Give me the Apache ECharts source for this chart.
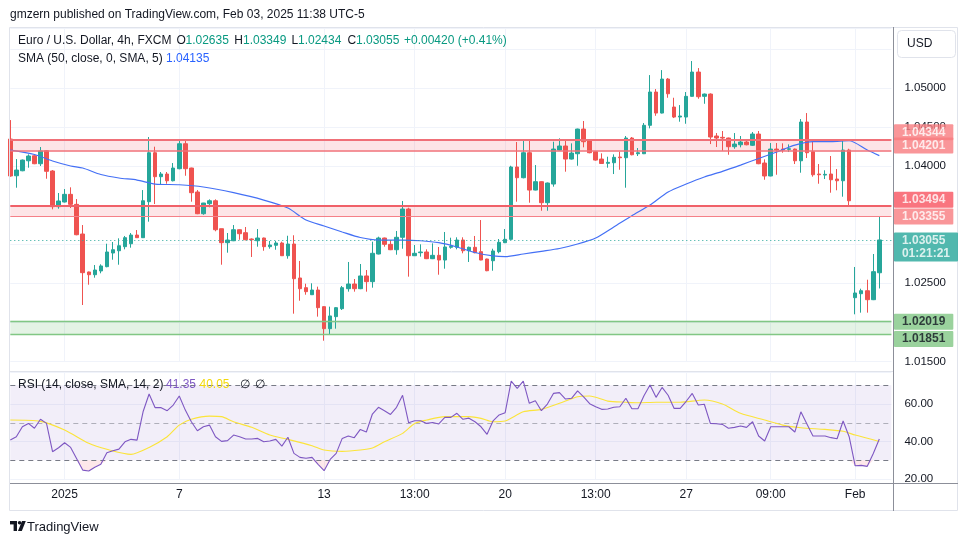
<!DOCTYPE html>
<html><head><meta charset="utf-8">
<script src="https://cdn.jsdelivr.net/npm/echarts/dist/echarts.min.js"></script>
<style>html,body{margin:0;padding:0;background:#fff}#c{width:970px;height:545px}</style>
</head><body><div id="c"></div>
<script>
// ---------- DATA ----------
const opens = [1.04347,1.03877,1.03941,1.04069,1.04133,1.04031,1.04197,1.03938,1.03481,1.03541,
1.03639,1.03511,1.03131,1.02645,1.02610,1.02658,1.02713,1.02888,1.02917,1.02969,
1.03007,1.03118,1.03084,1.03545,1.04172,1.03865,1.03899,1.03813,1.03967,1.04287,
1.03976,1.03669,1.03391,1.03519,1.03557,1.03199,1.03020,1.03045,1.03186,1.03148,
1.03067,1.03045,1.03080,1.02969,1.02987,1.03016,1.02853,1.03003,1.02568,1.02444,
1.02354,1.02414,1.02201,1.01919,1.02073,1.02175,1.02431,1.02491,1.02431,1.02594,
1.02521,1.02875,1.03080,1.02999,1.02930,1.03089,1.03451,1.02853,1.02892,1.02901,
1.02815,1.02858,1.02798,1.02961,1.02961,1.03054,1.02917,1.02961,1.02905,1.02811,
1.02789,1.02905,1.03020,1.03063,1.03989,1.03852,1.04172,1.03694,1.03801,1.03532,
1.03771,1.04206,1.04258,1.04091,1.04159,1.04475,1.04322,1.04185,1.04091,1.04036,
1.04044,1.04117,1.04108,1.04360,1.04159,1.04159,1.04523,1.04949,1.04680,1.05115,
1.04757,1.04629,1.04629,1.04894,1.05205,1.04894,1.04923,1.04386,1.04369,1.04360,
1.04249,1.04274,1.04309,1.04267,1.04411,1.04040,1.03874,1.04219,1.04219,1.04215,
1.04219,1.04069,1.04565,1.04185,1.03899,1.03886,1.03899,1.03835,1.03813,1.04206,
1.02316,1.02367,1.02405,1.02290,1.02635];
const closes = [1.03874,1.03950,1.04078,1.04130,1.04031,1.04194,1.03934,1.03481,1.03554,1.03639,
1.03511,1.03122,1.02636,1.02610,1.02670,1.02722,1.02901,1.02930,1.02981,1.03084,
1.03118,1.03084,1.03557,1.04172,1.03865,1.03899,1.03813,1.03976,1.04287,1.03967,
1.03660,1.03391,1.03528,1.03557,1.03186,1.03020,1.03054,1.03186,1.03135,1.03058,
1.03058,1.03080,1.02969,1.02990,1.03016,1.02853,1.03003,1.02559,1.02431,1.02393,
1.02414,1.02188,1.01919,1.02082,1.02188,1.02444,1.02491,1.02431,1.02594,1.02521,
1.02884,1.03080,1.02999,1.02930,1.03089,1.03451,1.02853,1.02884,1.02901,1.02815,
1.02858,1.02798,1.02965,1.02974,1.03054,1.02917,1.02961,1.02892,1.02798,1.02661,
1.02914,1.03025,1.03063,1.03989,1.03852,1.04172,1.03694,1.03801,1.03532,1.03784,
1.04219,1.04258,1.04091,1.04168,1.04475,1.04313,1.04172,1.04078,1.04034,1.04049,
1.04113,1.04108,1.04360,1.04146,1.04172,1.04523,1.04949,1.04680,1.05115,1.04927,
1.04629,1.04642,1.04894,1.05205,1.04889,1.04923,1.04373,1.04360,1.04360,1.04249,
1.04283,1.04309,1.04274,1.04411,1.04031,1.03874,1.04219,1.04206,1.04206,1.04223,
1.04069,1.04565,1.04172,1.03890,1.03890,1.03895,1.03826,1.03813,1.04206,1.03557,
1.02376,1.02405,1.02290,1.02649,1.03055];
const highs = [1.04590,1.04091,1.04085,1.04151,1.04140,1.04245,1.04206,1.03950,1.03656,1.03707,
1.03729,1.03579,1.03246,1.02650,1.02734,1.02743,1.03007,1.03029,1.03076,1.03106,
1.03144,1.03182,1.03694,1.04373,1.04249,1.03925,1.03925,1.04040,1.04347,1.04347,
1.03980,1.03694,1.03530,1.03575,1.03575,1.03199,1.03144,1.03246,1.03190,1.03221,
1.03075,1.03195,1.03085,1.03042,1.03042,1.03033,1.03109,1.03115,1.02786,1.02495,
1.02500,1.02457,1.02205,1.02201,1.02195,1.02466,1.02773,1.02555,1.02747,1.02670,
1.03033,1.03097,1.03085,1.03045,1.03170,1.03554,1.03468,1.02990,1.02999,1.02935,
1.03012,1.02965,1.03157,1.03084,1.03089,1.03089,1.02970,1.03106,1.03310,1.02815,
1.02943,1.03067,1.03195,1.04005,1.04309,1.04343,1.04343,1.04014,1.03805,1.03790,
1.04313,1.04356,1.04334,1.04292,1.04480,1.04578,1.04325,1.04190,1.04164,1.04121,
1.04151,1.04185,1.04386,1.04373,1.04232,1.04552,1.05166,1.04987,1.05230,1.05128,
1.04876,1.04782,1.04949,1.05346,1.05256,1.04930,1.04932,1.04424,1.04450,1.04365,
1.04424,1.04386,1.04347,1.04437,1.04450,1.04087,1.04296,1.04296,1.04292,1.04279,
1.04225,1.04603,1.04680,1.04343,1.04027,1.03947,1.04130,1.03963,1.04343,1.04223,
1.02709,1.02431,1.02546,1.02875,1.03349];
const lows = [1.03865,1.03724,1.03935,1.03980,1.04025,1.04002,1.03839,1.03447,1.03455,1.03535,
1.03464,1.03115,1.02222,1.02482,1.02572,1.02628,1.02705,1.02802,1.02738,1.02935,
1.02956,1.03080,1.03080,1.03289,1.03515,1.03771,1.03775,1.03805,1.03960,1.03877,
1.03545,1.03385,1.03378,1.03473,1.03166,1.02738,1.02892,1.03040,1.03058,1.03050,
1.02837,1.02969,1.02917,1.02943,1.02930,1.02850,1.02815,1.02111,1.02277,1.02354,
1.02350,1.02073,1.01765,1.01851,1.01919,1.02158,1.02393,1.02393,1.02425,1.02393,
1.02444,1.02870,1.02969,1.02925,1.02866,1.02943,1.02585,1.02850,1.02841,1.02810,
1.02810,1.02610,1.02687,1.02943,1.02935,1.02884,1.02773,1.02884,1.02795,1.02655,
1.02661,1.02884,1.03015,1.03058,1.03545,1.03844,1.03532,1.03690,1.03429,1.03429,
1.03737,1.04200,1.03929,1.04085,1.04005,1.04241,1.04165,1.04070,1.04030,1.03980,
1.03899,1.03954,1.03724,1.04139,1.04130,1.04155,1.04484,1.04645,1.04675,1.04876,
1.04616,1.04569,1.04543,1.04890,1.04863,1.04799,1.04283,1.04245,1.04197,1.04146,
1.04223,1.04241,1.04267,1.04258,1.04025,1.03826,1.03870,1.03890,1.04172,1.04181,
1.04027,1.03916,1.04104,1.03865,1.03775,1.03835,1.03660,1.03691,1.03609,1.03502,
1.02103,1.02124,1.02124,1.02285,1.02434];

const smaIdx = [0,4,7,10,12,15,18,21,24,28,32,37,42,46,49,52,55,58,61,65,68,71,74,77,80,82,85,88,91,94,97,100,103,106,109,112,115,118,121,124,127,130,133,136,139,142,144];
const smaVal = [1.04206,1.04149,1.04066,1.04002,1.03976,1.03893,1.03848,1.03822,1.03771,1.03762,
1.03733,1.03660,1.03566,1.03464,1.03310,1.03234,1.03157,1.03086,1.03054,1.03054,
1.03045,1.03020,1.02965,1.02894,1.02850,1.02841,1.02875,1.02910,1.02946,1.03003,
1.03080,1.03221,1.03365,1.03502,1.03669,1.03771,1.03861,1.03934,1.04014,1.04098,
1.04181,1.04270,1.04315,1.04313,1.04325,1.04206,1.04135];

const rsi = [40.8,42.6,47.9,49.7,47.1,51.9,49.7,34.6,36.7,39.4,
36.9,30.8,24.8,24.3,26.3,27.9,34.1,35.1,36.0,39.9,
41.2,40.8,55.9,65.4,58.1,58.1,56.5,59.5,64.3,56.8,
50.6,45.8,47.9,48.8,42.6,40.1,40.5,43.5,42.6,41.4,
41.4,41.7,39.9,40.3,41.2,37.6,42.3,33.7,31.6,31.1,
31.6,27.9,24.5,30.5,33.7,41.7,43.0,42.1,46.5,45.1,
54.7,58.3,56.5,54.5,58.3,64.7,50.1,51.1,51.1,49.7,
50.2,49.4,52.9,52.9,55.1,51.9,52.5,50.6,47.9,43.9,
51.1,54.2,55.4,72.3,68.4,72.3,60.4,61.8,56.5,60.0,
65.7,66.1,62.7,63.1,67.1,63.9,60.2,58.6,57.2,57.4,
58.3,58.6,63.1,57.5,57.5,64.5,70.2,63.6,68.9,64.7,
57.7,57.7,61.5,65.7,59.5,59.9,49.7,49.5,49.2,47.1,
47.6,48.3,47.6,50.6,43.0,40.3,47.9,47.9,47.9,47.9,
45.1,55.9,49.4,43.0,43.0,43.0,42.1,41.5,51.0,42.6,
27.1,27.3,26.8,33.7,41.35];
const rsiSmaIdx = [0,5,9,13,16,20,23,26,28,30,33,35,37,40,43,46,50,52,55,58,60,62,65,67,69,72,76,78,80,82,85,88,91,94,96,99,102,104,107,111,115,118,121,125,128,131,135,138,140,144];
const rsiSmaVal = [51.5,50.8,46.2,39.1,35.9,33.2,36.9,42.6,48.8,51.9,
53.6,53.3,50.6,47.6,43.5,41.2,37.8,35.5,34.8,35.5,
36.6,39.9,44.4,49.7,51.5,53.3,53.3,52.4,50.6,51.0,
55.9,57.2,60.4,63.9,64.3,61.6,61.0,60.7,61.0,61.0,
62.2,60.0,55.1,51.5,48.8,47.4,46.5,45.5,43.5,40.05];

const categories = Array.from({length: 147}, (_, i) => String(i));
const tickIndex = [9, 28, 52, 67, 82, 97, 112, 126, 140];
const tickText = ['2025', '7', '13', '13:00', '20', '13:00', '27', '09:00', 'Feb'];
const hiddenPriceLabels = ['1.03500', '1.03000', '1.02000', '1.05500'];

const redZoneA = [1.04344, 1.04201];
const redZoneB = [1.03494, 1.03355];
const greenZone = [1.02019, 1.01851];
const lastPrice = 1.03055;
const countdown = '01:21:21';
const smaLast = '1.04135';
const rsiLast = '41.35';
const rsiSmaLast = '40.05';

// ---------- CHART ----------
const FONT = '"Liberation Sans", Arial, sans-serif';
const ohlc = opens.map((o, i) => [o, closes[i], lows[i], highs[i]]);
const smaData = smaIdx.map((x, k) => [x, smaVal[k]]);
const rsiData = rsi.map((v, i) => [i, v]);
const rsiSmaData = rsiSmaIdx.map((x, k) => [x, rsiSmaVal[k]]);
const osBase = rsi.map((v, i) => [i, Math.min(v, 30)]);
const osFill = rsi.map((v, i) => [i, 30 - Math.min(v, 30)]);
const LASTCAT = categories.length - 1;

const badgeStyle = [
  {v: redZoneA[0], dy: -7, bg: '#f77c80', fg: '#ffffff'},
  {v: redZoneA[1], dy: -5, bg: '#f77c80', fg: '#ffffff'},
  {v: redZoneB[0], dy: -6, bg: '#f7525f', fg: '#ffffff'},
  {v: redZoneB[1], dy: 0, bg: '#f77c80', fg: '#ffffff'},
  {v: lastPrice, dy: 7, bg: '#26a69a', fg: '#ffffff', extra: '\n' + countdown},
  {v: greenZone[0], dy: 1, bg: '#81c784', fg: '#131722'},
  {v: greenZone[1], dy: 5, bg: '#81c784', fg: '#131722'}
];

const chart = echarts.init(document.getElementById('c'), null, {renderer: 'canvas'});

const tickShow = (idx) => tickIndex.indexOf(idx) >= 0;

const option = {
  animation: false,
  backgroundColor: '#ffffff',
  textStyle: {fontFamily: FONT},
  grid: [
    {left: 10.3, top: 28, width: 881.1, height: 333.4, containLabel: false, outerBoundsMode: 'none'},
    {left: 10.3, top: 372, width: 881.1, height: 107.1, containLabel: false, outerBoundsMode: 'none'}
  ],
  xAxis: [
    {type: 'category', gridIndex: 0, data: categories, boundaryGap: false,
      axisLine: {show: false}, axisTick: {show: false}, axisLabel: {show: false},
      splitLine: {show: true, interval: (i) => tickShow(i), lineStyle: {color: '#f0f3fa', width: 1}}},
    {type: 'category', gridIndex: 1, data: categories, boundaryGap: false,
      axisLine: {show: false}, axisTick: {show: false},
      axisLabel: {show: true, interval: (i) => tickShow(i), margin: 10, color: '#131722', fontSize: 12, fontFamily: FONT,
        formatter: (val, i) => { const k = tickIndex.indexOf(Number(val)); return k >= 0 ? tickText[k] : ''; }},
      splitLine: {show: true, interval: (i) => tickShow(i), lineStyle: {color: '#f0f3fa', width: 1}}}
  ],
  yAxis: [
    {type: 'value', gridIndex: 0, position: 'right', min: 1.015, max: 1.05769, interval: 0.005, scale: true,
      axisLine: {show: false}, axisTick: {show: false},
      axisLabel: {formatter: (v) => { const s = v.toFixed(5); return hiddenPriceLabels.indexOf(s) >= 0 ? '' : s; },
        showMaxLabel: false, showMinLabel: true, color: '#131722', fontSize: 11.5, margin: 13, fontFamily: FONT},
      splitLine: {show: true, lineStyle: {color: '#f0f3fa', width: 1}}},
    {type: 'value', gridIndex: 1, position: 'right', min: 20, max: 77.12, interval: 20,
      axisLine: {show: false}, axisTick: {show: false},
      axisLabel: {formatter: (v) => v.toFixed(2), showMaxLabel: false, showMinLabel: true, color: '#131722', fontSize: 11.5, margin: 13, fontFamily: FONT},
      splitLine: {show: true, lineStyle: {color: '#f0f3fa', width: 1}}}
  ],
  series: [
    {
      name: 'EURUSD', type: 'candlestick', xAxisIndex: 0, yAxisIndex: 0, data: ohlc,
      barWidth: 4, clip: true, z: 3,
      itemStyle: {color: '#26a69a', color0: '#ef5350', borderColor: '#26a69a', borderColor0: '#ef5350', borderWidth: 1},
      markArea: {
        silent: true, z: 1, precision: 6,
        data: [
          [{yAxis: redZoneA[0], itemStyle: {color: 'rgba(242,54,69,0.13)'}}, {yAxis: redZoneA[1]}],
          [{yAxis: redZoneB[0], itemStyle: {color: 'rgba(242,54,69,0.13)'}}, {yAxis: redZoneB[1]}],
          [{yAxis: greenZone[0], itemStyle: {color: 'rgba(76,175,80,0.15)'}}, {yAxis: greenZone[1]}]
        ]
      }
    },
    {
      name: 'SMA', type: 'line', xAxisIndex: 0, yAxisIndex: 0, data: smaData, smooth: 0.25,
      symbol: 'none', z: 4, lineStyle: {color: '#4470f5', width: 1.2},
      markLine: {
        silent: true, symbol: ['none', 'none'], label: {show: false}, z: 5, precision: 6,
        data: [
          {yAxis: redZoneA[0], lineStyle: {color: '#f07078', width: 2, type: 'solid'}},
          {yAxis: redZoneA[1], lineStyle: {color: '#f07078', width: 1.7, type: 'solid'}},
          {yAxis: redZoneB[0], lineStyle: {color: '#f06068', width: 2, type: 'solid'}},
          {yAxis: redZoneB[1], lineStyle: {color: '#f58088', width: 1.2, type: 'solid'}},
          {yAxis: greenZone[0], lineStyle: {color: '#81c784', width: 1.4, type: 'solid'}},
          {yAxis: greenZone[1], lineStyle: {color: '#81c784', width: 1.4, type: 'solid'}},
          {yAxis: lastPrice, lineStyle: {color: '#26a69a', width: 1, type: [1, 3]}}
        ]
      }
    },
    {
      name: 'badges', type: 'scatter', xAxisIndex: 0, yAxisIndex: 0, clip: false, silent: true, z: 20, zlevel: 1,
      symbolSize: 0.1, itemStyle: {color: 'rgba(0,0,0,0)'},
      data: badgeStyle.map(b => ({
        value: [LASTCAT, b.v],
        name: b.v.toFixed(5) + (b.extra || ''),
        label: {offset: [0, b.dy], backgroundColor: b.bg, color: b.fg}
      })),
      label: {show: true, position: 'right', distance: 2.5, formatter: (p) => p.name,
        fontSize: 12, fontWeight: 'bold', fontFamily: FONT, lineHeight: 13, padding: [2, 8, 1, 8], borderRadius: 1}
    },
    {
      name: 'RSI', type: 'line', xAxisIndex: 1, yAxisIndex: 1, data: rsiData, symbol: 'none', z: 4,
      lineStyle: {color: '#7e57c2', width: 1.1},
      markArea: {silent: true, z: 1, data: [[{yAxis: 70, itemStyle: {color: 'rgba(126,87,194,0.1)'}}, {yAxis: 30}]]},
      markLine: {
        silent: true, symbol: ['none', 'none'], label: {show: false}, z: 3,
        data: [
          {yAxis: 70, lineStyle: {color: '#787b86', width: 1, type: [5, 4]}},
          {yAxis: 50, lineStyle: {color: 'rgba(120,123,134,0.55)', width: 1, type: [5, 4]}},
          {yAxis: 30, lineStyle: {color: '#787b86', width: 1, type: [5, 4]}}
        ]
      }
    },
    {
      name: 'RSI SMA', type: 'line', xAxisIndex: 1, yAxisIndex: 1, data: rsiSmaData, smooth: 0.25,
      symbol: 'none', z: 3, lineStyle: {color: '#fbe43a', width: 1.1}
    },
    {
      name: 'osBase', type: 'line', xAxisIndex: 1, yAxisIndex: 1, data: osBase, stack: 'os',
      symbol: 'none', lineStyle: {width: 0, opacity: 0}, z: 2, silent: true
    },
    {
      name: 'osFill', type: 'line', xAxisIndex: 1, yAxisIndex: 1, data: osFill, stack: 'os',
      symbol: 'none', lineStyle: {width: 0, opacity: 0}, z: 2, silent: true,
      areaStyle: {color: 'rgba(242,54,69,0.16)'}
    }
  ],
  graphic: [
    {type: 'rect', silent: true, z: 50, shape: {x: 9.5, y: 27.5, width: 948, height: 483}, style: {fill: 'none', stroke: '#e0e3eb', lineWidth: 1}},
    {type: 'line', silent: true, z: 50, shape: {x1: 10, y1: 371.5, x2: 893, y2: 371.5}, style: {stroke: '#e0e3eb', lineWidth: 1}},
    {type: 'line', silent: true, z: 60, shape: {x1: 893.5, y1: 27, x2: 893.5, y2: 511}, style: {stroke: '#8c8f99', lineWidth: 1}},
    {type: 'line', silent: true, z: 60, shape: {x1: 10, y1: 483.5, x2: 958, y2: 483.5}, style: {stroke: '#8c8f99', lineWidth: 1}},
    {type: 'rect', silent: true, z: 60, shape: {x: 897.5, y: 30.5, width: 58, height: 27, r: 4}, style: {fill: '#ffffff', stroke: '#e0e3eb', lineWidth: 1}},
    {type: 'text', silent: true, z: 61, style: {x: 907, y: 44, text: 'USD', font: '12px ' + FONT, fill: '#131722', textVerticalAlign: 'middle'}},
    {type: 'text', silent: true, z: 61, style: {x: 10, y: 15, text: 'gmzern published on TradingView.com, Feb 03, 2025 11:38 UTC-5', font: '12px ' + FONT, fill: '#131722', textVerticalAlign: 'middle'}},
    {type: 'text', silent: true, z: 61, style: {x: 18, y: 41, text: 'Euro / U.S. Dollar, 4h, FXCM', font: '12px ' + FONT, fill: '#131722', textVerticalAlign: 'middle'}},
    {type: 'text', silent: true, z: 61, style: {x: 176.5, y: 41, text: 'O', font: '12px ' + FONT, fill: '#131722', textVerticalAlign: 'middle'}},
    {type: 'text', silent: true, z: 61, style: {x: 185.5, y: 41, text: opens[opens.length - 1].toFixed(5), font: '12px ' + FONT, fill: '#089981', textVerticalAlign: 'middle'}},
    {type: 'text', silent: true, z: 61, style: {x: 234.3, y: 41, text: 'H', font: '12px ' + FONT, fill: '#131722', textVerticalAlign: 'middle'}},
    {type: 'text', silent: true, z: 61, style: {x: 243, y: 41, text: highs[highs.length - 1].toFixed(5), font: '12px ' + FONT, fill: '#089981', textVerticalAlign: 'middle'}},
    {type: 'text', silent: true, z: 61, style: {x: 291.5, y: 41, text: 'L', font: '12px ' + FONT, fill: '#131722', textVerticalAlign: 'middle'}},
    {type: 'text', silent: true, z: 61, style: {x: 298, y: 41, text: lows[lows.length - 1].toFixed(5), font: '12px ' + FONT, fill: '#089981', textVerticalAlign: 'middle'}},
    {type: 'text', silent: true, z: 61, style: {x: 347.5, y: 41, text: 'C', font: '12px ' + FONT, fill: '#131722', textVerticalAlign: 'middle'}},
    {type: 'text', silent: true, z: 61, style: {x: 356, y: 41, text: closes[closes.length - 1].toFixed(5), font: '12px ' + FONT, fill: '#089981', textVerticalAlign: 'middle'}},
    {type: 'text', silent: true, z: 61, style: {x: 404, y: 41, text: '+0.00420 (+0.41%)', font: '12px ' + FONT, fill: '#089981', textVerticalAlign: 'middle'}},
    {type: 'text', silent: true, z: 61, style: {x: 18, y: 59, text: 'SMA (50, close, 0, SMA, 5)', font: '12px ' + FONT, fill: '#131722', textVerticalAlign: 'middle'}},
    {type: 'text', silent: true, z: 61, style: {x: 166, y: 59, text: smaLast, font: '12px ' + FONT, fill: '#2962ff', textVerticalAlign: 'middle'}},
    {type: 'text', silent: true, z: 61, style: {x: 18, y: 385, text: 'RSI (14, close, SMA, 14, 2)', font: '12px ' + FONT, fill: '#131722', textVerticalAlign: 'middle'}},
    {type: 'text', silent: true, z: 61, style: {x: 166, y: 385, text: rsiLast, font: '12px ' + FONT, fill: '#7e57c2', textVerticalAlign: 'middle'}},
    {type: 'text', silent: true, z: 61, style: {x: 199.5, y: 385, text: rsiSmaLast, font: '12px ' + FONT, fill: '#f2d90a', textVerticalAlign: 'middle'}},
    {type: 'text', silent: true, z: 61, style: {x: 239.5, y: 385, text: '\u2205', font: '12px ' + FONT, fill: '#131722', textVerticalAlign: 'middle'}},
    {type: 'text', silent: true, z: 61, style: {x: 255, y: 385, text: '\u2205', font: '12px ' + FONT, fill: '#131722', textVerticalAlign: 'middle'}},
    // footer logo
    {type: 'rect', silent: true, z: 61, shape: {x: 10, y: 521, width: 7, height: 3.4}, style: {fill: '#131722'}},
    {type: 'rect', silent: true, z: 61, shape: {x: 13.6, y: 521, width: 3.4, height: 10}, style: {fill: '#131722'}},
    {type: 'circle', silent: true, z: 61, shape: {cx: 19.6, cy: 522.8, r: 1.8}, style: {fill: '#131722'}},
    {type: 'polygon', silent: true, z: 61, shape: {points: [[22, 521], [25.8, 521], [21.8, 531], [18, 531]]}, style: {fill: '#131722'}},
    {type: 'text', silent: true, z: 61, style: {x: 27, y: 527, text: 'TradingView', font: '13px ' + FONT, fill: '#131722', textVerticalAlign: 'middle'}}
  ]
};
chart.setOption(option);
</script>
</body></html>
